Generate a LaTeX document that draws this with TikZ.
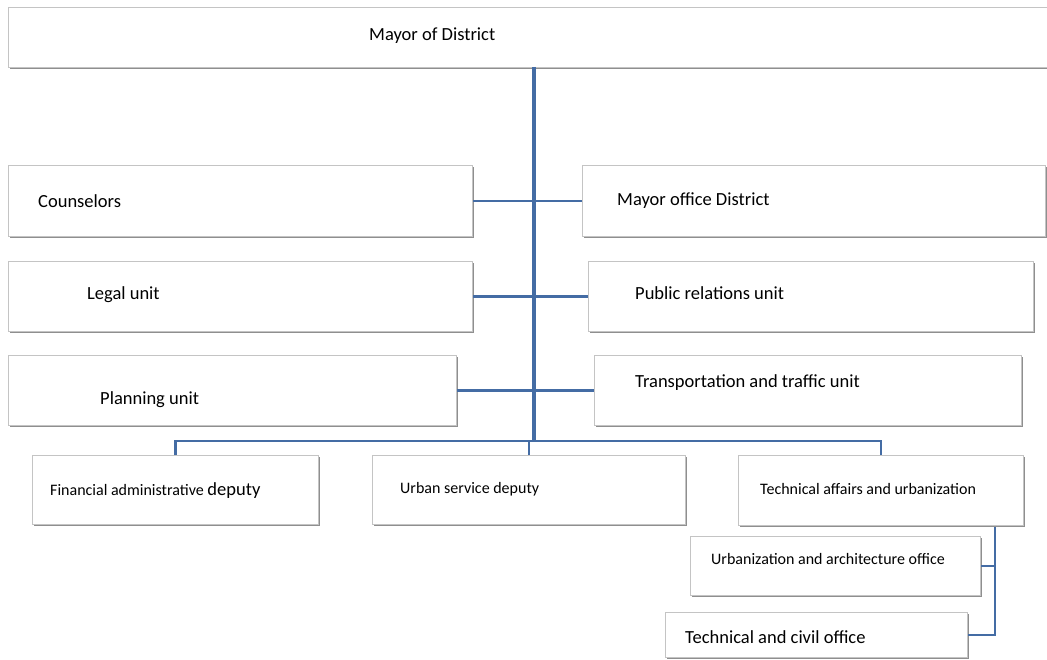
\documentclass[tikz,border=0pt]{standalone}
\usepackage{fontspec}
\setmainfont{Carlito}
\usepackage{tikz}
\usetikzlibrary{calc}
\usetikzlibrary{shadows}
\definecolor{linkblue}{RGB}{68,108,164}
\definecolor{boxline}{RGB}{196,196,196}
\newcommand{\bigtxt}{\fontsize{18.5}{22}\selectfont}
\newcommand{\smalltxt}{\fontsize{16}{19}\selectfont}

\begin{document}
\begin{tikzpicture}[x=1pt, y=-1pt,
	unit/.style={draw=boxline, line width=1pt, fill=white, rectangle, anchor=north west, inner sep=0pt,
		drop shadow={shadow xshift=1.2pt, shadow yshift=-1.2pt, fill=black!55, opacity=.8}},
	lbl/.style={anchor=west, inner sep=0pt},
	trunk/.style={draw=linkblue, line width=3.6pt},
	branch/.style={draw=linkblue, line width=2.4pt}]
			\useasboundingbox (0,0) rectangle (1047,660);

			% boxes: name/left/top/width/height
			\foreach \n/\x/\y/\w/\h in {mayor/8/7/1044/60, counsel/8/165/464/71, office/582/165/463/71,
				legal/8/261/464/70, pr/588/261/445/70, plan/8/355/448/70, traffic/594/355/427/70,
				finance/32/455/286/69, urban/372/455/313/69, tech/738/455/285/70,
				arch/690/536/290/59, civil/665/612/302/45} {
				\node[unit, minimum width=\w pt, minimum height=\h pt] (\n) at (\x,\y) {};
			}

			\node[lbl] (mayor-t) at (369,36) {\bigtxt Mayor of District};
			\node[lbl] (counsel-t) at (38,201) {\bigtxt Counselors};
			\node[lbl] (office-t) at (617,201) {\bigtxt Mayor office District};
			\node[lbl] (legal-t) at (87,295) {\bigtxt Legal unit};
			\node[lbl] (pr-t) at (635,293) {\bigtxt Public relations unit};
			\node[lbl] (plan-t) at (100,400) {\bigtxt Planning unit};
			\node[lbl] (traffic-t) at (635,383) {\bigtxt Transportation and traffic unit};
			\node[lbl] (finance-t) at (50,491) {\smalltxt Financial administrative \bigtxt deputy};
			\node[lbl] (urban-t) at (400,489) {\smalltxt Urban service deputy};
			\node[lbl] (tech-t) at (760,489) {\smalltxt Technical affairs and urbanization};
			\node[lbl] (arch-t) at (711,559) {\smalltxt Urbanization and architecture office};
			\node[lbl] (civil-t) at (685,637) {\bigtxt Technical and civil office};

			\coordinate (top) at (534,67);
			\coordinate (bus) at (534,441);
			\coordinate (rail) at (995,527);

			\draw[trunk] (top) -- (bus);
			\foreach \a/\b in {counsel/office, legal/pr, plan/traffic} {
				\draw[branch] (\a.east) -- (\b.west);
			}
			\draw[branch] (finance.north) |- (bus) -| (tech.north);
			\draw[branch] (urban.north) -- (urban.north |- bus);
			\draw[branch] (arch.east) -| (rail);
			\draw[branch] (civil.east) -| (rail);
		\end{tikzpicture}
\end{document}
